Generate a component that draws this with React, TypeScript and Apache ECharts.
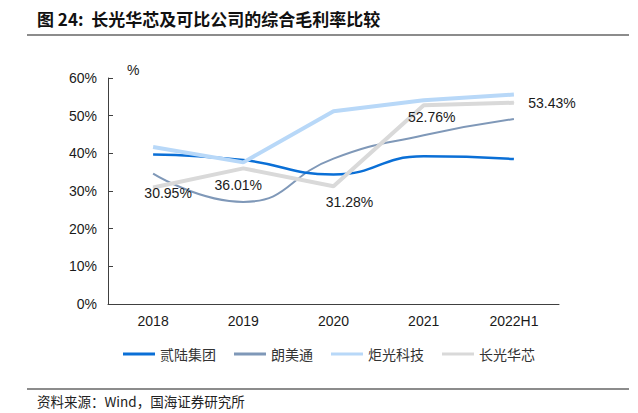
import React, { useEffect, useRef } from "react";
import * as echarts from "echarts";

const categories = ["2018", "2019", "2020", "2021", "2022H1"];
const yTicks = [0, 10, 20, 30, 40, 50, 60];
const iiVi = [39.7, 38.2, 34.4, 39.2, 38.5];
const lumentum = [34.6, 27.1, 38.6, 44.8, 49.1];
const focuslight = [41.7, 37.6, 51.2, 54.1, 55.6];
const everbright = [30.95, 36.01, 31.28, 52.76, 53.43];

const seriesNames = ["贰陆集团", "朗美通", "炬光科技", "长光华芯"];
const titleText = "图 24:  长光华芯及可比公司的综合毛利率比较";
const sourceText = "资料来源：Wind，国海证券研究所";

export default function App() {
  const ref = useRef<HTMLDivElement>(null);
  useEffect(() => {
    if (!ref.current) return;
    const chart = echarts.init(ref.current, null, { renderer: "svg" });
    const labelOffsets = [
      [15, 6],
      [-5, 17],
      [16, 16],
      [8, 12],
      [38, 0],
    ];
    const font = "'Liberation Sans', Arial, sans-serif";
    const cjk = "'Noto Sans CJK SC', sans-serif";
    const mk = (name: string, data: number[], color: string, width: number, smooth: boolean, z: number) => ({
      name,
      type: "line",
      data,
      color,
      smooth,
      symbol: "none",
      z,
      lineStyle: { color, width },
      itemStyle: { color },
    });
    const option: any = {
      animation: false,
      grid: { left: 108, right: 79, top: 78, bottom: 109, containLabel: false },
      xAxis: {
        type: "category",
        data: categories,
        boundaryGap: true,
        axisLine: { lineStyle: { color: "#404040", width: 1 } },
        axisTick: { inside: true, length: 5, lineStyle: { color: "#404040" } },
        axisLabel: { color: "#1a1a1a", fontSize: 14, fontFamily: font, margin: 10 },
      },
      yAxis: {
        type: "value",
        min: yTicks[0],
        max: yTicks[yTicks.length - 1],
        interval: 10,
        splitLine: { show: false },
        axisLine: { show: true, lineStyle: { color: "#404040", width: 1 } },
        axisTick: { show: true, inside: true, length: 5, lineStyle: { color: "#404040" } },
        axisLabel: { color: "#1a1a1a", fontSize: 14, fontFamily: font, margin: 11, formatter: (v: number) => v + "%" },
      },
      legend: {
        left: 123,
        top: 347,
        padding: 0,
        icon: "rect",
        itemWidth: 32,
        itemHeight: 3,
        itemGap: 18,
        textStyle: { fontSize: 14, fontFamily: cjk, color: "#333" },
        data: seriesNames,
      },
      series: [
        mk(seriesNames[0], iiVi, "#0a6fd6", 2.5, true, 3),
        mk(seriesNames[1], lumentum, "#7f98b8", 2, true, 2),
        mk(seriesNames[2], focuslight, "#b8d8f8", 4, false, 4),
        {
          ...mk(seriesNames[3], everbright, "#d9d9d9", 4, false, 5),
          symbol: "circle",
          symbolSize: 1,
          showSymbol: true,
          data: everbright.map((v, i) => ({
            value: v,
            label: {
              show: true,
              position: "inside",
              offset: labelOffsets[i],
              formatter: (p: any) => Number(p.value).toFixed(2) + "%",
              fontSize: 14,
              fontFamily: font,
              color: "#1a1a1a",
            },
          })),
        },
      ],
      graphic: [
        {
          type: "text",
          left: 37,
          top: 10,
          style: { text: titleText, fontSize: 17, fontWeight: "bold", fontFamily: cjk, fill: "#111" },
        },
        { type: "line", shape: { x1: 27, y1: 35, x2: 629, y2: 35 }, style: { stroke: "#8c8c8c", lineWidth: 2 } },
        {
          type: "text",
          left: 127,
          top: 63,
          style: { text: "%", fontSize: 14, fontFamily: font, fill: "#1a1a1a" },
        },
        { type: "line", shape: { x1: 27, y1: 389, x2: 629, y2: 389 }, style: { stroke: "#8c8c8c", lineWidth: 2 } },
        {
          type: "text",
          left: 37,
          top: 394,
          style: { text: sourceText, fontSize: 13.5, fontFamily: cjk, fill: "#222" },
        },
      ],
    };
    chart.setOption(option);
    return () => chart.dispose();
  }, []);
  return (
    <div
      ref={ref}
      style={{ position: "fixed", left: 0, top: 0, width: 638, height: 413, background: "#fff" }}
    />
  );
}
